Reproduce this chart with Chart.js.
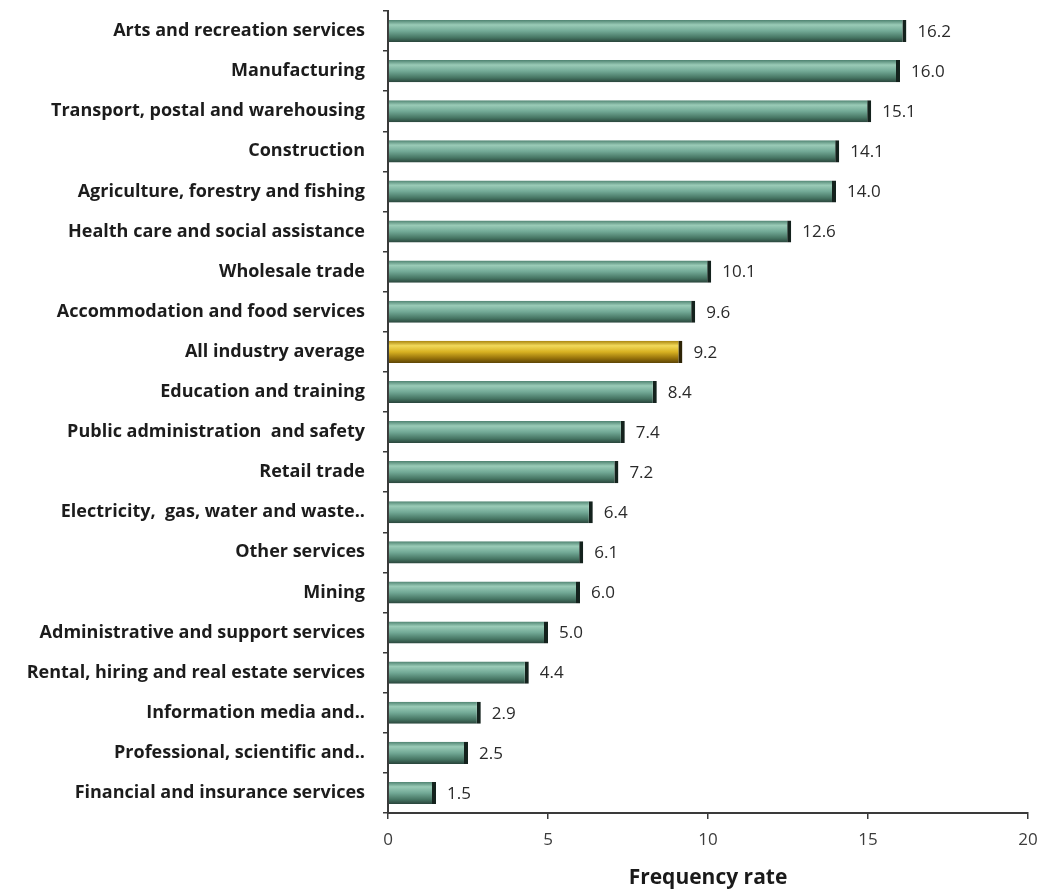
<!DOCTYPE html>
<html>
<head>
<meta charset="utf-8">
<script src="https://cdn.jsdelivr.net/npm/chart.js@4.4.1/dist/chart.umd.min.js"></script>
<style>
  html, body { margin: 0; padding: 0; background: #ffffff; }
  #wrap { width: 1055px; height: 893px; position: relative; }
</style>
</head>
<body>
<div id="wrap"><canvas id="c"></canvas></div>
<script>
// Injury frequency rate by industry
const industries = [
  'Arts and recreation services',
  'Manufacturing',
  'Transport, postal and warehousing',
  'Construction',
  'Agriculture, forestry and fishing',
  'Health care and social assistance',
  'Wholesale trade',
  'Accommodation and food services',
  'All industry average',
  'Education and training',
  'Public administration  and safety',
  'Retail trade',
  'Electricity,  gas, water and waste..',
  'Other services',
  'Mining',
  'Administrative and support services',
  'Rental, hiring and real estate services',
  'Information media and..',
  'Professional, scientific and..',
  'Financial and insurance services'
];
const frequencyRate = [16.2, 16.0, 15.1, 14.1, 14.0, 12.6, 10.1, 9.6, 9.2, 8.4, 7.4, 7.2, 6.4, 6.1, 6.0, 5.0, 4.4, 2.9, 2.5, 1.5];
const averageLabel = 'All industry average';
const xTicks = [0, 5, 10, 15, 20];

const LABEL_FONT = "'Open Sans', 'Liberation Sans', sans-serif";

// Vertical cylinder-style shading for each bar
function barShade(ctx, isAvg) {
  const chart = ctx.chart;
  const ys = chart.scales && chart.scales.y;
  if (!ys || !chart.chartArea) return isAvg ? '#d4a919' : '#5f9a86';
  const yc = ys.getPixelForValue(ctx.dataIndex);
  const h = 22;
  const g = chart.ctx.createLinearGradient(0, yc - h / 2, 0, yc + h / 2);
  if (isAvg) {
    g.addColorStop(0, '#a8840e');
    g.addColorStop(0.22, '#f2d95a');
    g.addColorStop(0.5, '#d8b222');
    g.addColorStop(0.8, '#94700a');
    g.addColorStop(1, '#5e4606');
  } else {
    g.addColorStop(0, '#4f8371');
    g.addColorStop(0.22, '#9acbb7');
    g.addColorStop(0.5, '#72a996');
    g.addColorStop(0.8, '#467563');
    g.addColorStop(1, '#29443b');
  }
  return g;
}

// Value text just past the end of each bar
const valueLabels = {
  id: 'valueLabels',
  afterDatasetsDraw(chart) {
    const meta = chart.getDatasetMeta(0);
    const c = chart.ctx;
    c.save();
    c.font = "17px " + LABEL_FONT;
    c.fillStyle = '#2a2a2a';
    c.textBaseline = 'middle';
    c.textAlign = 'left';
    meta.data.forEach((el, i) => {
      c.fillText(frequencyRate[i].toFixed(1), el.x + 11, el.y + 1);
    });
    c.restore();
  }
};

new Chart(document.getElementById('c'), {
  type: 'bar',
  data: {
    labels: industries,
    datasets: [{
      data: frequencyRate,
      backgroundColor: (ctx) => barShade(ctx, industries[ctx.dataIndex] === averageLabel),
      borderColor: (ctx) => industries[ctx.dataIndex] === averageLabel ? '#2e2406' : '#14221d',
      borderWidth: { top: 0, bottom: 0, left: 0, right: 4 },
      borderSkipped: false,
      barPercentage: 0.55,
      categoryPercentage: 1.0
    }]
  },
  options: {
    indexAxis: 'y',
    responsive: true,
    maintainAspectRatio: false,
    animation: false,
    layout: { padding: { top: 11, right: 27, bottom: 0, left: 0 } },
    plugins: {
      legend: { display: false },
      tooltip: { enabled: false }
    },
    scales: {
      x: {
        min: 0,
        max: 20,
        afterBuildTicks: (s) => { s.ticks = xTicks.map(v => ({ value: v })); },
        afterFit: (s) => { s.height = 80; },
        border: { display: true, color: '#3a3a3a', width: 2 },
        grid: { display: true, drawOnChartArea: false, drawTicks: true, tickLength: 6, color: '#3a3a3a', lineWidth: 1.5 },
        ticks: {
          padding: 11,
          color: '#3c3c3c',
          font: { family: LABEL_FONT, size: 17 }
        },
        title: {
          display: true,
          text: 'Frequency rate',
          color: '#1a1a1a',
          font: { family: LABEL_FONT, size: 21, weight: '700' },
          padding: { top: 12, bottom: 2 }
        }
      },
      y: {
        afterFit: (s) => { s.width = 388; s.paddingTop = 0; s.paddingBottom = 0; },
        border: { display: true, color: '#3a3a3a', width: 2 },
        grid: { display: true, offset: true, drawOnChartArea: false, drawTicks: true, tickLength: 5, color: '#3a3a3a', lineWidth: 1.5 },
        ticks: {
          padding: 18,
          color: '#1c1c1c',
          font: { family: LABEL_FONT, size: 18, weight: '700' },
          autoSkip: false
        }
      }
    }
  },
  plugins: [valueLabels]
});
</script>
</body>
</html>
